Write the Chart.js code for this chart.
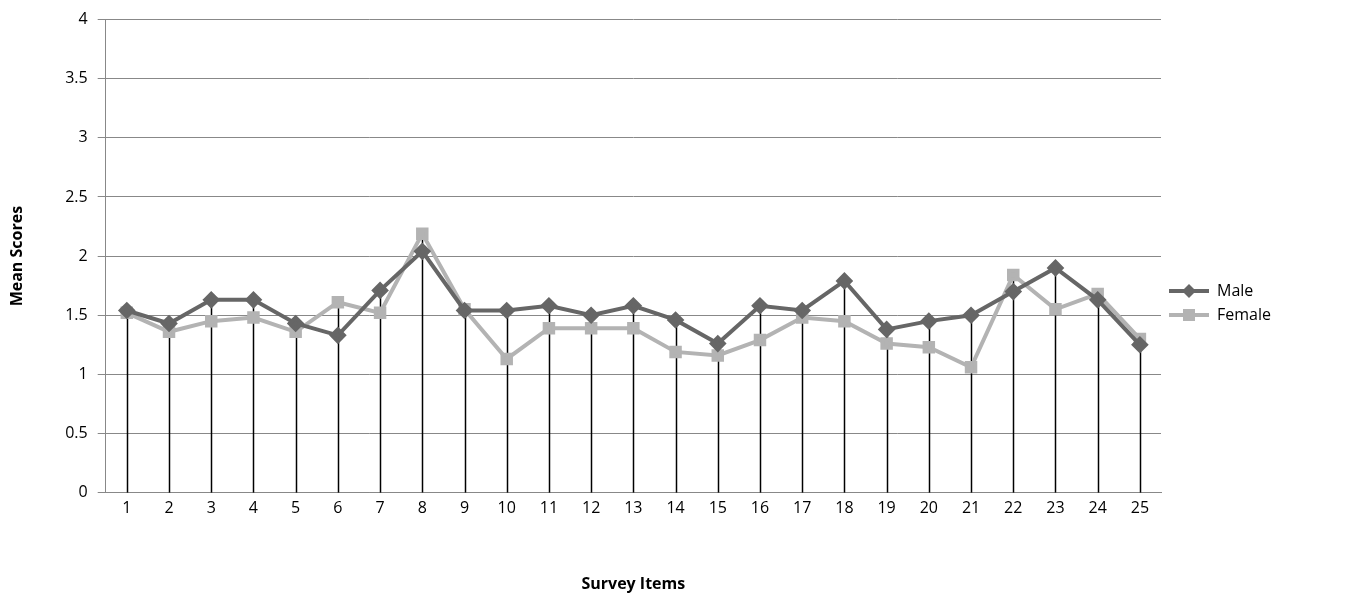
<!DOCTYPE html>
<html>
<head>
<meta charset="utf-8">
<script src="https://cdn.jsdelivr.net/npm/chart.js@4/dist/chart.umd.min.js"></script>
<style>
  html, body { margin: 0; padding: 0; background: #fff; }
  #wrap { width: 1351px; height: 594px; }
</style>
</head>
<body>
<div id="wrap"><canvas id="surveyChart" width="1351" height="594"></canvas></div>
<script>
const items = ['1','2','3','4','5','6','7','8','9','10','11','12','13','14','15','16','17','18','19','20','21','22','23','24','25'];
const maleScores = [1.54, 1.43, 1.63, 1.63, 1.43, 1.33, 1.71, 2.04, 1.54, 1.54, 1.58, 1.50, 1.58, 1.46, 1.26, 1.58, 1.54, 1.79, 1.38, 1.45, 1.50, 1.70, 1.90, 1.63, 1.25];
const femaleScores = [1.52, 1.36, 1.45, 1.48, 1.36, 1.61, 1.52, 2.19, 1.55, 1.13, 1.39, 1.39, 1.39, 1.19, 1.16, 1.29, 1.48, 1.45, 1.26, 1.23, 1.06, 1.84, 1.55, 1.68, 1.30];

// Excel-style drop lines from the highest point of each category to the axis
const dropLines = {
    id: 'dropLines',
    beforeDatasetsDraw(chart) {
        const { ctx, scales: { x, y } } = chart;
        ctx.save();
        ctx.strokeStyle = '#000';
        ctx.lineWidth = 1.5;
        items.forEach((_, i) => {
            const top = Math.max(maleScores[i], femaleScores[i]);
            const px = Math.round(x.getPixelForValue(i)) + 0.5;
            ctx.beginPath();
            ctx.moveTo(px, y.getPixelForValue(top));
            ctx.lineTo(px, y.getPixelForValue(0));
            ctx.stroke();
        });
        ctx.restore();
    }
};

// legend swatch: short line with the marker in the middle
function legendIcon(color, diamond) {
    const c = document.createElement('canvas');
    c.width = 40; c.height = 16;
    const g = c.getContext('2d');
    g.strokeStyle = color; g.fillStyle = color; g.lineWidth = 4;
    g.beginPath(); g.moveTo(0, 8); g.lineTo(40, 8); g.stroke();
    g.beginPath();
    if (diamond) { g.moveTo(20, 1); g.lineTo(27, 8); g.lineTo(20, 15); g.lineTo(13, 8); g.closePath(); g.fill(); }
    else g.fillRect(14, 2, 12, 12);
    return c;
}
const icons = [legendIcon('#666666', true), legendIcon('#b3b3b3', false)];

const font = { family: 'Open Sans', size: 16 };

new Chart(document.getElementById('surveyChart').getContext('2d'), {
    type: 'line',
    data: {
        labels: items,
        datasets: [{
            label: 'Male',
            data: maleScores,
            borderColor: '#666666',
            backgroundColor: '#666666',
            borderWidth: 4,
            pointStyle: 'rectRot',
            pointRadius: 6,
            pointHoverRadius: 6
        }, {
            label: 'Female',
            data: femaleScores,
            borderColor: '#b3b3b3',
            backgroundColor: '#b3b3b3',
            borderWidth: 4,
            pointStyle: 'rect',
            pointRadius: 6,
            pointHoverRadius: 6
        }]
    },
    options: {
        animation: false,
        responsive: false,
        layout: { padding: { left: 4, right: 0, top: 12, bottom: 0 } },
        plugins: {
            legend: {
                position: 'right',
                labels: {
                    font: font, color: '#000', usePointStyle: true, padding: 8,
                    boxWidth: 40, pointStyleWidth: 40,
                    generateLabels(chart) {
                        const list = Chart.defaults.plugins.legend.labels.generateLabels(chart);
                        list.forEach((l, i) => { l.pointStyle = icons[i]; });
                        return list;
                    }
                }
            },
            tooltip: { enabled: false }
        },
        scales: {
            x: {
                offset: true,
                grid: { display: false, drawTicks: false, tickLength: 0 },
                border: { color: '#888' },
                ticks: { font: font, color: '#000', padding: 6 },
                title: { display: true, text: 'Survey Items', font: { family: 'Open Sans', size: 16, weight: 'bold' }, color: '#000', padding: { top: 51, bottom: 0 } }
            },
            y: {
                min: 0, max: 4,
                afterFit(scale) { scale.width = scale.width + 14; },
                ticks: { stepSize: 0.5, font: font, color: '#000', padding: 10, callback: v => String(v) },
                grid: { color: '#888', drawTicks: true, tickLength: 8 },
                border: { color: '#888' },
                title: { display: true, text: 'Mean Scores', font: { family: 'Open Sans', size: 16, weight: 'bold' }, color: '#000', padding: { bottom: 14 } }
            }
        }
    },
    plugins: [dropLines, {
        id: 'legendWidth',
        beforeInit(chart) {
            const fit = chart.legend.fit;
            chart.legend.fit = function () { fit.call(this); this.width = 190; };
        }
    }]
});
</script>
</body>
</html>
